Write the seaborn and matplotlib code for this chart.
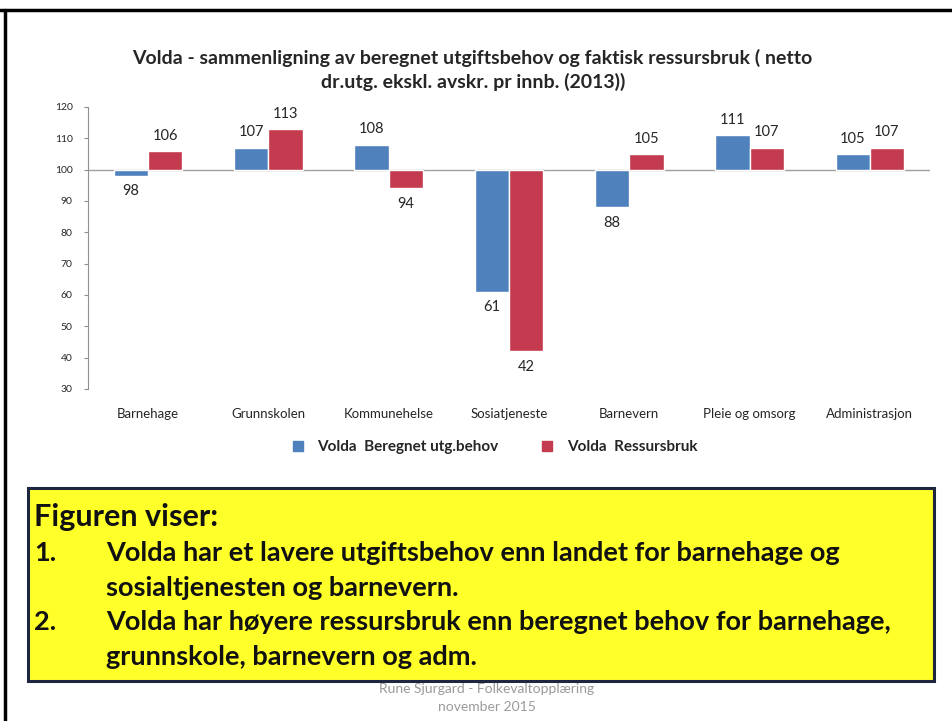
import pandas as pd
import matplotlib.pyplot as plt
import seaborn as sns
from matplotlib.patches import Rectangle
from matplotlib.ticker import FuncFormatter

omrader = ['Barnehage', 'Grunnskolen', 'Kommunehelse', 'Sosiatjeneste',
           'Barnevern', 'Pleie og omsorg', 'Administrasjon']
beregnet = [98, 107, 108, 61, 88, 111, 105]
ressurs = [106, 113, 94, 42, 105, 107, 107]
serier = ['Volda  Beregnet utg.behov', 'Volda  Ressursbruk']
farger = ['#4F81BD', '#C43A4E']
landet = 100

df = pd.DataFrame({'omrade': omrader * 2,
                   'serie': [serier[0]] * len(omrader) + [serier[1]] * len(omrader),
                   'verdi': beregnet + ressurs})
df['avvik'] = df['verdi'] - landet

sns.set_style('white')
plt.rcParams['font.family'] = ['Lato', 'DejaVu Sans']

fig = plt.figure(figsize=(9.53, 7.21), dpi=100)
ax = fig.add_axes([88/953, 1-389/721, (930-88)/953, (389-107)/721])

sns.barplot(data=df, x='omrade', y='avvik', hue='serie', palette=farger,
            width=0.57, saturation=1, ax=ax, legend=False)

for cont in ax.containers:
    ax.bar_label(cont, labels=[f'{v + landet:.0f}' for v in cont.datavalues],
                 padding=6, fontsize=10.5)

ax.set_ylim(-70, 20)
ax.set_yticks(range(-70, 21, 10))
ax.yaxis.set_major_formatter(FuncFormatter(lambda v, p: f'{v + landet:.0f}'))
ax.set_xlim(-0.5, len(omrader) - 0.5)
ax.axhline(0, color='#A0A0A0', lw=1, zorder=0)
ax.set_xlabel('')
ax.set_ylabel('')
for s in ['top', 'right', 'bottom']:
    ax.spines[s].set_visible(False)
ax.spines['left'].set_color('#909090')
ax.tick_params(axis='y', left=True, length=3, color='#909090', labelsize=7.5, pad=8)
ax.tick_params(axis='x', bottom=False, labelsize=9.5, pad=10)

# legend
handles = [plt.Line2D([], [], marker='s', ls='', color=c, markersize=7) for c in farger]
fig.legend(handles, serier, loc='center', bbox_to_anchor=(490/953, 1-447/721), ncol=2,
           frameon=False, handletextpad=0.3, columnspacing=2.2,
           prop={'weight': 'bold', 'size': 11})

fig.text(0.496, 1-70/721,
         'Volda - sammenligning av beregnet utgiftsbehov og faktisk ressursbruk ( netto\n'
         'dr.utg. ekskl. avskr. pr innb. (2013))',
         ha='center', va='center', fontsize=14, fontweight='bold', linespacing=1.45)

# slide frame
fig.add_artist(plt.Line2D([0, 1], [1-10/721, 1-10/721], color='black', lw=2.5))
fig.add_artist(plt.Line2D([5/953, 5/953], [0, 1-10/721], color='black', lw=2.5))

# yellow box
fig.add_artist(Rectangle((28/953, 1-681/721), (934-28)/953, (681-488)/721,
                         facecolor='#FFFF2A', edgecolor='#1F2740', lw=2.2))
tekst = dict(fontsize=19.5, fontweight='bold', va='center', color='#111111')
fig.text(34/953, 1-517/721, 'Figuren viser:', **{**tekst, 'fontsize': 22})
fig.text(34/953, 1-553/721, '1.', **tekst)
fig.text(106/953, 1-553/721, 'Volda har et lavere utgiftsbehov enn landet for barnehage og', **tekst)
fig.text(106/953, 1-588/721, 'sosialtjenesten og barnevern.', **tekst)
fig.text(34/953, 1-622/721, '2.', **tekst)
fig.text(106/953, 1-622/721, 'Volda har høyere ressursbruk enn beregnet behov for barnehage,', **tekst)
fig.text(106/953, 1-657/721, 'grunnskole, barnevern og adm.', **tekst)

fig.text(487/953, 1-689/721, 'Rune Sjurgard - Folkevaltopplæring', ha='center', va='center',
         fontsize=10, color='#9A9A9A')
fig.text(487/953, 1-707/721, 'november 2015', ha='center', va='center',
         fontsize=10, color='#9A9A9A')

fig.savefig('out.png', dpi=100)
